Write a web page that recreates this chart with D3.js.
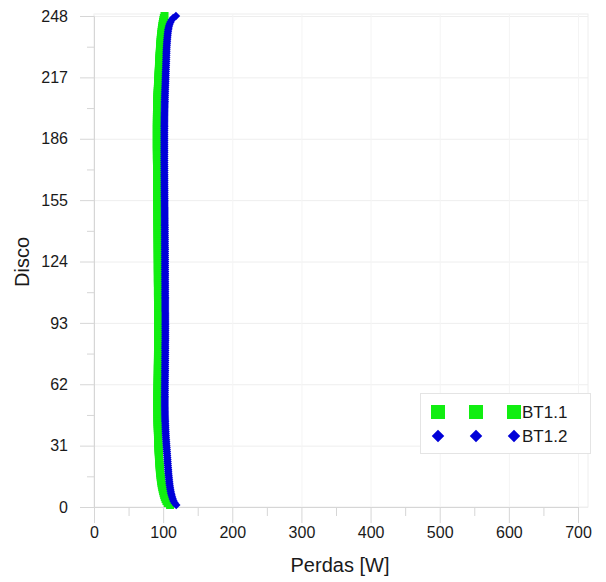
<!DOCTYPE html>
<html>
<head>
<meta charset="utf-8">
<script src="https://cdn.jsdelivr.net/npm/d3@7"></script>
<style>
    body { margin: 0; background: #fff; }
    text { font-family: "Liberation Sans", Arial, sans-serif; }
</style>
</head>
<body>
<div id="graphContainer"></div>
<script>
"use strict";

// tick values
const xTicks = [0, 100, 200, 300, 400, 500, 600, 700]
const yTicks = [0, 31, 62, 93, 124, 155, 186, 217, 248]

// disc numbers 1..248
const discos = d3.range(1, 249)

// losses per disc [W]
const bt11 = [
    110.0, 106.5, 104.8, 103.5, 102.4, 101.5, 100.7, 100.0, 99.3, 98.7,
    98.1, 97.6, 97.2, 96.8, 96.4, 96.1, 95.8, 95.5, 95.2, 95.0,
    94.8, 94.6, 94.4, 94.2, 94.0, 93.8, 93.7, 93.5, 93.4, 93.2,
    93.1, 93.0, 92.9, 92.8, 92.7, 92.6, 92.5, 92.4, 92.3, 92.2,
    92.1, 92.0, 91.9, 91.9, 91.8, 91.8, 91.7, 91.7, 91.7, 91.6,
    91.6, 91.6, 91.6, 91.6, 91.7, 91.7, 91.7, 91.8, 91.8, 91.9,
    91.9, 92.0, 92.0, 92.1, 92.1, 92.2, 92.2, 92.3, 92.3, 92.3,
    92.4, 92.4, 92.4, 92.5, 92.5, 92.5, 92.5, 92.6, 92.6, 92.6,
    92.6, 92.6, 92.7, 92.7, 92.7, 92.7, 92.7, 92.7, 92.7, 92.7,
    92.7, 92.7, 92.7, 92.7, 92.7, 92.7, 92.7, 92.6, 92.6, 92.6,
    92.6, 92.6, 92.6, 92.6, 92.6, 92.5, 92.5, 92.5, 92.5, 92.5,
    92.5, 92.5, 92.4, 92.4, 92.4, 92.4, 92.4, 92.4, 92.3, 92.3,
    92.3, 92.3, 92.3, 92.3, 92.2, 92.2, 92.2, 92.2, 92.2, 92.1,
    92.1, 92.1, 92.1, 92.1, 92.0, 92.0, 92.0, 92.0, 91.9, 91.9,
    91.9, 91.9, 91.8, 91.8, 91.8, 91.8, 91.7, 91.7, 91.7, 91.7,
    91.6, 91.6, 91.6, 91.6, 91.5, 91.5, 91.5, 91.5, 91.4, 91.4,
    91.4, 91.4, 91.3, 91.3, 91.3, 91.3, 91.2, 91.2, 91.2, 91.2,
    91.1, 91.1, 91.1, 91.1, 91.0, 91.0, 91.0, 91.0, 91.0, 90.9,
    90.9, 90.9, 90.9, 90.9, 90.9, 90.9, 90.9, 90.9, 90.9, 90.9,
    90.9, 90.9, 90.9, 90.9, 91.0, 91.0, 91.0, 91.0, 91.1, 91.1,
    91.1, 91.2, 91.3, 91.4, 91.5, 91.6, 91.7, 91.8, 92.0, 92.1,
    92.3, 92.4, 92.6, 92.7, 92.9, 93.0, 93.2, 93.3, 93.5, 93.6,
    93.8, 93.9, 94.1, 94.2, 94.4, 94.5, 94.7, 94.8, 95.0, 95.2,
    95.4, 95.6, 95.8, 96.0, 96.2, 96.4, 96.7, 97.0, 97.3, 97.6,
    98.0, 98.4, 98.8, 99.3, 99.8, 100.4, 101.0, 102.0
]

const bt12 = [
    119.0, 116.5, 115.0, 113.9, 113.0, 112.2, 111.5, 110.9, 110.4, 109.9,
    109.5, 109.1, 108.8, 108.5, 108.2, 107.9, 107.6, 107.4, 107.2, 107.0,
    106.8, 106.6, 106.4, 106.2, 106.0, 105.8, 105.6, 105.4, 105.2, 105.0,
    104.8, 104.6, 104.4, 104.2, 104.0, 103.9, 103.7, 103.6, 103.4, 103.3,
    103.2, 103.1, 103.0, 102.9, 102.8, 102.7, 102.6, 102.6, 102.5, 102.5,
    102.4, 102.4, 102.4, 102.4, 102.4, 102.4, 102.4, 102.4, 102.5, 102.5,
    102.5, 102.5, 102.6, 102.6, 102.6, 102.7, 102.7, 102.7, 102.8, 102.8,
    102.8, 102.8, 102.9, 102.9, 102.9, 102.9, 103.0, 103.0, 103.0, 103.0,
    103.0, 103.0, 103.0, 103.1, 103.1, 103.1, 103.1, 103.1, 103.1, 103.1,
    103.1, 103.1, 103.1, 103.1, 103.1, 103.1, 103.1, 103.1, 103.0, 103.0,
    103.0, 103.0, 103.0, 103.0, 103.0, 103.0, 102.9, 102.9, 102.9, 102.9,
    102.9, 102.9, 102.9, 102.8, 102.8, 102.8, 102.8, 102.8, 102.8, 102.7,
    102.7, 102.7, 102.7, 102.7, 102.7, 102.6, 102.6, 102.6, 102.6, 102.6,
    102.6, 102.5, 102.5, 102.5, 102.5, 102.5, 102.4, 102.4, 102.4, 102.4,
    102.4, 102.3, 102.3, 102.3, 102.3, 102.3, 102.2, 102.2, 102.2, 102.2,
    102.2, 102.1, 102.1, 102.1, 102.1, 102.1, 102.0, 102.0, 102.0, 102.0,
    102.0, 101.9, 101.9, 101.9, 101.9, 101.9, 101.8, 101.8, 101.8, 101.8,
    101.8, 101.8, 101.7, 101.7, 101.7, 101.7, 101.7, 101.7, 101.7, 101.7,
    101.7, 101.7, 101.7, 101.7, 101.7, 101.7, 101.7, 101.7, 101.7, 101.7,
    101.8, 101.8, 101.8, 101.8, 101.9, 101.9, 101.9, 102.0, 102.0, 102.1,
    102.1, 102.2, 102.2, 102.3, 102.4, 102.4, 102.5, 102.6, 102.7, 102.8,
    102.9, 103.0, 103.1, 103.2, 103.3, 103.4, 103.5, 103.6, 103.7, 103.8,
    103.9, 104.0, 104.1, 104.2, 104.3, 104.4, 104.5, 104.6, 104.7, 104.8,
    104.9, 105.0, 105.2, 105.4, 105.6, 105.8, 106.0, 106.3, 106.6, 106.9,
    107.3, 107.8, 108.5, 109.4, 110.6, 112.2, 114.5, 118.5
]

const seriesNames = ["BT1.1", "BT1.2"];

(function () {
    // dimensions for svg
    const measurements = {
        width: 606,
        height: 582,
        left: 94,
        right: 578,
        top: 16,
        bottom: 507
    }

    const colors = {
        "BT1.1": "#11ee11",
        "BT1.2": "#0000d8",
        grid: "#eeeeee",
        tick: "#d6d6d6",
        text: "#1a1a1a"
    }

    const svgContainer = d3.select('#graphContainer').append("svg")
        .attr('width', measurements.width)
        .attr('height', measurements.height)

    const scaleX = d3.scaleLinear()
        .domain([0, 700])
        .range([measurements.left, measurements.right])

    const scaleY = d3.scaleLinear()
        .domain([0, 248])
        .range([measurements.bottom, measurements.top])

    drawGrid()
    drawAxes()
    plotData()
    drawLegend()

    function drawGrid() {
        const g = svgContainer.append('g')
        // plot frame (light)
        g.append('rect')
            .attr('x', measurements.left)
            .attr('y', measurements.top - 2)
            .attr('width', 588 - measurements.left)
            .attr('height', measurements.bottom - measurements.top + 2)
            .attr('fill', 'none')
            .attr('stroke', colors.grid)
        g.selectAll('.hgrid')
            .data(yTicks)
            .enter()
            .append('line')
            .attr('x1', measurements.left)
            .attr('x2', 588)
            .attr('y1', d => scaleY(d) + 0.5)
            .attr('y2', d => scaleY(d) + 0.5)
            .attr('stroke', colors.grid)
        g.selectAll('.vgrid')
            .data(xTicks)
            .enter()
            .append('line')
            .attr('x1', d => scaleX(d) + 0.5)
            .attr('x2', d => scaleX(d) + 0.5)
            .attr('y1', measurements.top - 2)
            .attr('y2', measurements.bottom)
            .attr('stroke', '#f4f4f4')
    }

    function drawAxes() {
        // major and minor ticks built by d3 axes
        const xMinor = d3.range(50, 700, 100)
        const yMinor = yTicks.slice(1).map(d => d - 15.5)

        const xAxis = d3.axisBottom(scaleX)
            .tickValues(xTicks)
            .tickSize(16)
            .tickPadding(4)
        const xAxisMinor = d3.axisBottom(scaleX)
            .tickValues(xMinor)
            .tickSize(9)
            .tickFormat('')

        const yAxis = d3.axisLeft(scaleY)
            .tickValues(yTicks)
            .tickSize(14)
            .tickPadding(12)
        const yAxisMinor = d3.axisLeft(scaleY)
            .tickValues(yMinor)
            .tickSize(7)
            .tickFormat('')

        const gx = svgContainer.append('g')
            .attr('transform', `translate(0,${measurements.bottom})`)
            .call(xAxis)
        svgContainer.append('g')
            .attr('transform', `translate(0,${measurements.bottom})`)
            .call(xAxisMinor)
            .call(g => g.select('.domain').remove())

        const gy = svgContainer.append('g')
            .attr('transform', `translate(${measurements.left},0)`)
            .call(yAxis)
        svgContainer.append('g')
            .attr('transform', `translate(${measurements.left},0)`)
            .call(yAxisMinor)
            .call(g => g.select('.domain').remove())

        svgContainer.selectAll('.tick line').attr('stroke', colors.tick)
        gx.select('.domain').attr('stroke', colors.tick)
        gy.select('.domain').attr('stroke', colors.tick)
        svgContainer.selectAll('.tick text')
            .attr('fill', colors.text)
            .style('font-size', '16px')
            .style('font-family', '"Liberation Sans", Arial, sans-serif')

        // axis titles
        svgContainer.append('text')
            .attr('x', 340)
            .attr('y', 572)
            .attr('text-anchor', 'middle')
            .attr('fill', colors.text)
            .style('font-size', '20px')
            .text('Perdas [W]')

        svgContainer.append('text')
            .attr('transform', 'translate(29,262) rotate(-90)')
            .attr('text-anchor', 'middle')
            .attr('fill', colors.text)
            .style('font-size', '20px')
            .text('Disco')
    }

    function plotData() {
        const green = discos.map((d, i) => ({ disco: d, value: bt11[i] }))
        const blue = discos.map((d, i) => ({ disco: d, value: bt12[i] }))

        const square = d3.symbol().type(d3.symbolSquare).size(64)
        const diamond = d3.symbol().type(d3.symbolDiamond2).size(46)

        svgContainer.append('g')
            .selectAll('path')
            .data(green)
            .enter()
            .append('path')
            .attr('d', square)
            .attr('transform', d => `translate(${scaleX(d.value)},${scaleY(d.disco)})`)
            .attr('fill', colors["BT1.1"])

        svgContainer.append('g')
            .selectAll('path')
            .data(blue)
            .enter()
            .append('path')
            .attr('d', diamond)
            .attr('transform', d => `translate(${scaleX(d.value)},${scaleY(d.disco)})`)
            .attr('fill', colors["BT1.2"])
    }

    function drawLegend() {
        const legend = svgContainer.append('g')
        legend.append('rect')
            .attr('x', 420.5)
            .attr('y', 393.5)
            .attr('width', 170)
            .attr('height', 60)
            .attr('fill', '#fff')
            .attr('stroke', '#e4e4e4')

        const shapes = {
            "BT1.1": d3.symbol().type(d3.symbolSquare).size(196),
            "BT1.2": d3.symbol().type(d3.symbolDiamond2).size(100)
        }
        const rowY = [412, 436]
        seriesNames.forEach((name, i) => {
            [438, 476, 514].forEach(x => {
                legend.append('path')
                    .attr('d', shapes[name])
                    .attr('transform', `translate(${x},${rowY[i]})`)
                    .attr('fill', colors[name])
            })
            legend.append('text')
                .attr('x', 522)
                .attr('y', rowY[i])
                .attr('dy', '0.36em')
                .attr('fill', colors.text)
                .style('font-size', '17px')
                .text(name)
        })
    }
})()
</script>
</body>
</html>
